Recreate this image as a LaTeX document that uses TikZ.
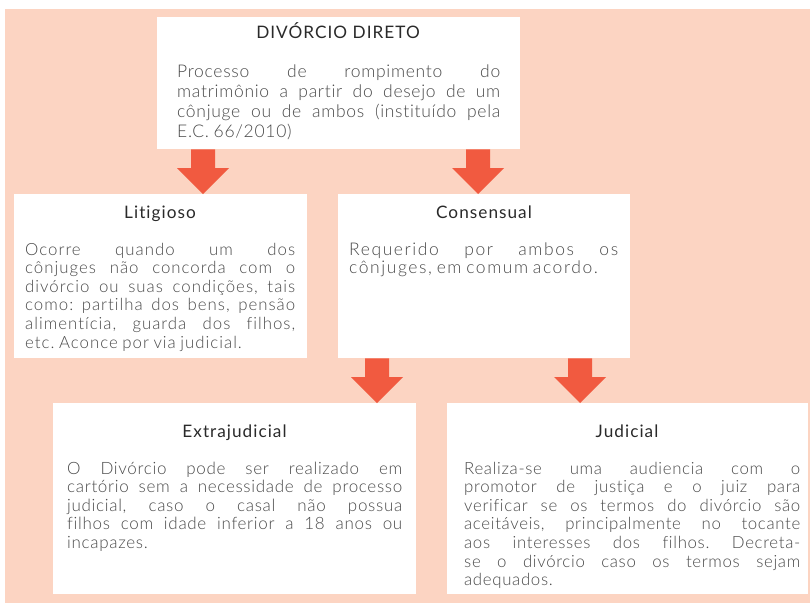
\documentclass[tikz,border=0pt]{standalone}
\usepackage{fontspec}
\setmainfont{Lato}[LetterSpace=4, Ligatures=NoCommon]
\newfontfamily\ttlfont{Lato}[LetterSpace=6, Ligatures=NoCommon]
\newfontfamily\bodyfont{Lato Light}[Ligatures=NoCommon]
\usetikzlibrary{calc}
\definecolor{peach}{HTML}{FCD4C2}
\definecolor{arrc}{HTML}{F15A40}
\definecolor{ttlc}{HTML}{2A2A2A}
\definecolor{bodyc}{HTML}{4A4A4A}
\newcommand\mybody[5]{\vtop{\hsize=#1pt\parindent=0pt\bodyfont\addfontfeatures{LetterSpace=#5}\fontsize{#2}{#3}\selectfont\frenchspacing\spaceskip=0.27em plus 0.8em minus 0.09em\tolerance=10000\hyphenpenalty=10000\parfillskip=0pt plus 1fil\relax #4\par}}
\tikzset{
  box/.style={fill=white, draw=none, anchor=north west, inner sep=0pt},
  ttl/.style={anchor=base, inner sep=0pt, text=ttlc, font=\ttlfont\fontsize{17.2}{20}\selectfont},
  bodytxt/.style={anchor=base west, inner sep=0pt, text=bodyc},
  blockarrow/.style={fill=arrc, draw=none}
}
\begin{document}
\begin{tikzpicture}[x=1pt,y=-1pt]
\useasboundingbox (0,0) rectangle (810,603);
\fill[peach] (5,9) rectangle (810,603);
% boxes
\node[box, minimum width=363pt, minimum height=132pt] (top) at (157,17) {};
\node[box, minimum width=293pt, minimum height=164pt] (lit) at (14,194) {};
\node[box, minimum width=292pt, minimum height=164pt] (cons) at (338,194) {};
\node[box, minimum width=363pt, minimum height=191pt] (extra) at (53,403) {};
\node[box, minimum width=361pt, minimum height=191pt] (jud) at (447,403) {};
% titles
\node[ttl] (ttop) at (338,38) {DIVÓRCIO DIRETO};
\node[ttl] (tlit) at (160,218) {Litigioso};
\node[ttl] (tcons) at (484,218) {Consensual};
\node[ttl] (textra) at (234.5,437) {Extrajudicial};
\node[ttl] (tjud) at (627,437) {Judicial};
% bodies
\node[bodytxt] (btop) at (177,77) {\mybody{323}{17.5}{20.2}{Processo de rompimento do\break matrimônio a partir do desejo de um\break cônjuge ou de ambos (instituído pela\break E.C. 66/2010)}{4}};
\node[bodytxt] (blit) at (25,255) {\mybody{270}{16.8}{18.6}{Ocorre quando um dos\break cônjuges não concorda com o\break divórcio ou suas condições, tais\break como: partilha dos bens, pensão\break alimentícia, guarda dos filhos,\break etc. Aconce por via judicial.}{6}};
\node[bodytxt] (bcons) at (349,255) {\mybody{269}{17.5}{18.6}{Requerido por ambos os\break cônjuges, em comum acordo.}{9}};
\node[bodytxt] (bextra) at (67,474) {\mybody{335}{17}{18.6}{O Divórcio pode ser realizado em\break cartório sem a necessidade de processo\break judicial, caso o casal não possua\break filhos com idade inferior a 18 anos ou\break incapazes.}{4}};
\node[bodytxt] (bjud) at (464,474) {\mybody{336}{16.8}{18.6}{Realiza-se uma audiencia com o\break promotor de justiça e o juiz para\break verificar se os termos do divórcio são\break aceitáveis, principalmente no tocante\break aos interesses dos filhos. Decreta-\break se o divórcio caso os termos sejam\break adequados.}{4}};
% arrow x positions
\coordinate (x1) at (203,0);
\coordinate (x2) at (478,0);
\coordinate (x3) at (377,0);
\coordinate (x4) at (580,0);
% block arrows
\foreach \a/\b/\x in {top/lit/x1, top/cons/x2, cons/extra/x3, cons/jud/x4}{
  \fill[blockarrow] ($(\a.south -| \x)+(-12,0)$) -- ($(\b.north -| \x)+(-12,-26)$) -- ($(\b.north -| \x)+(-26,-26)$) -- (\b.north -| \x) -- ($(\b.north -| \x)+(26,-26)$) -- ($(\b.north -| \x)+(12,-26)$) -- ($(\a.south -| \x)+(12,0)$) -- cycle;
}
\end{tikzpicture}
\end{document}
